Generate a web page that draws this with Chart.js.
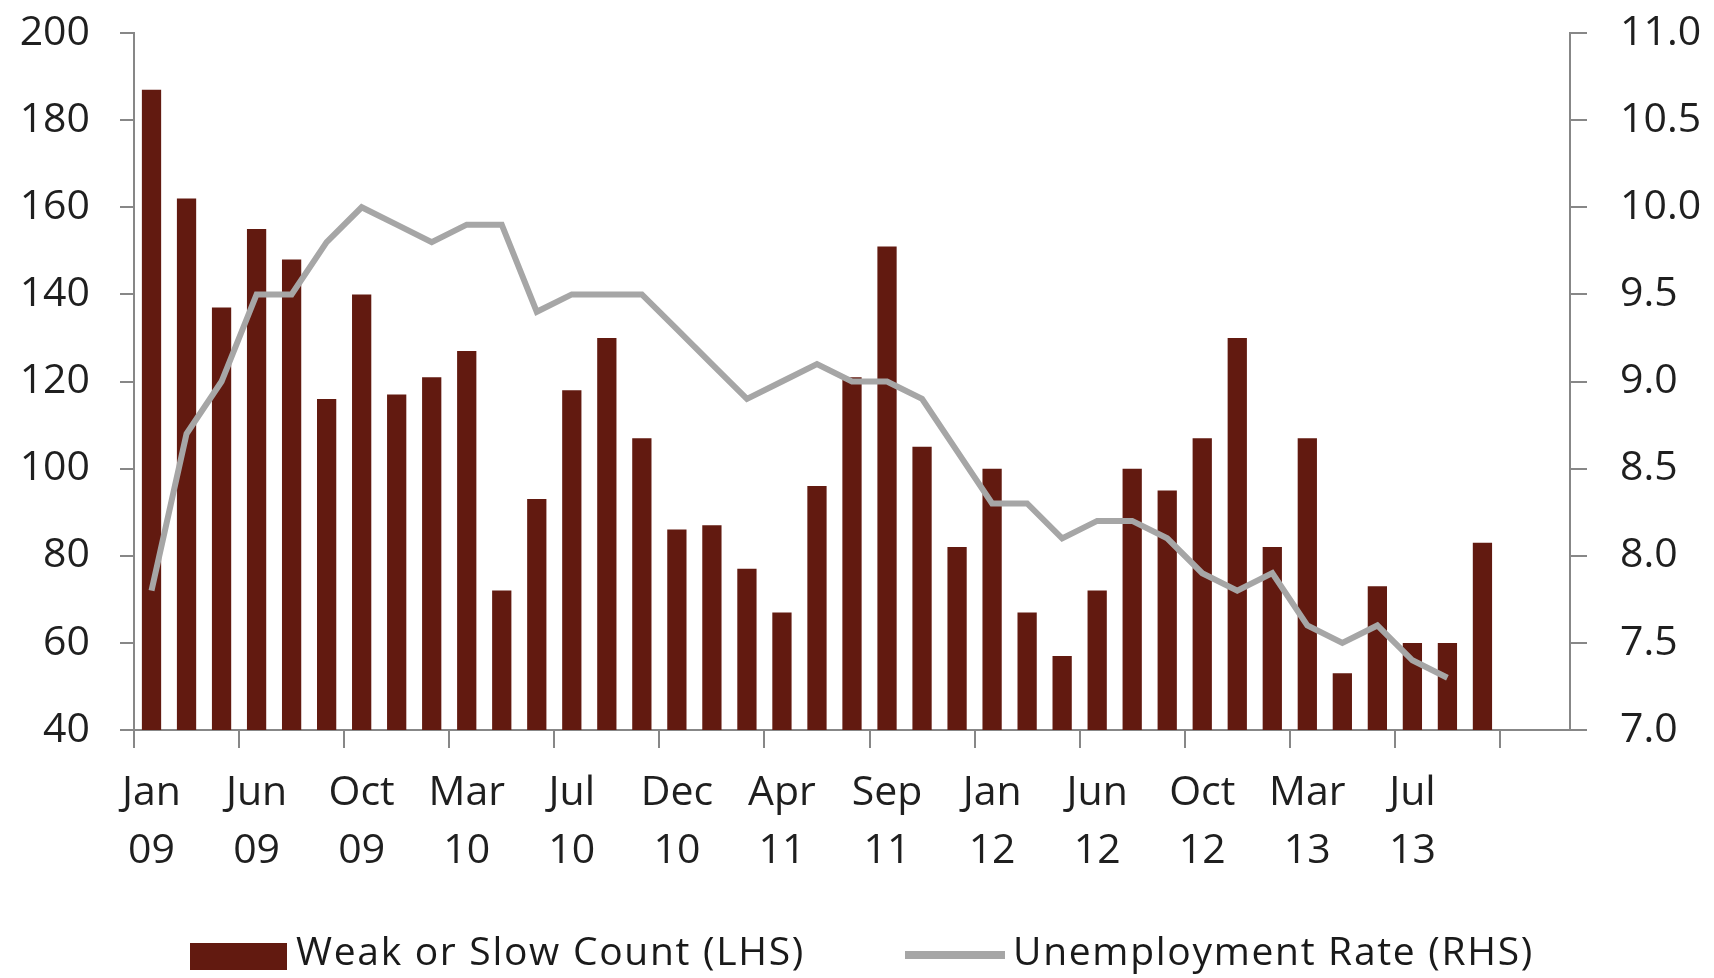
<!DOCTYPE html>
<html>
<head>
<meta charset="utf-8">
<script src="https://cdn.jsdelivr.net/npm/chart.js@4.4.1/dist/chart.umd.min.js"></script>
<style>
  html, body { margin: 0; padding: 0; background: #fff; }
  #wrap { position: relative; width: 1714px; height: 978px; overflow: hidden; }
  #chart { position: absolute; left: 0; top: 0; }
  .legend { position: absolute; top: 925px; font-family: "Open Sans", sans-serif; font-size: 39px; color: #1a1a1a; white-space: nowrap; line-height: 53px; letter-spacing: 1.7px; }
  .legend .swatch { position: absolute; }
</style>
</head>
<body>
<div id="wrap">
  <canvas id="chart" width="1714" height="978"></canvas>
  <div class="legend" style="left:190px">
    <span class="swatch" style="left:0; top:18px; width:97px; height:27px; background:#621a10"></span>
    <span style="position:absolute; left:106px; top:-2px">Weak or Slow Count (LHS)</span>
  </div>
  <div class="legend" style="left:905px">
    <span class="swatch" style="left:0; top:26px; width:100px; height:8px; background:#a6a6a6"></span>
    <span style="position:absolute; left:108px; top:-2px">Unemployment Rate (RHS)</span>
  </div>
</div>
<script>
// Beige Book release months, Jan 09 .. (two empty slots at the end)
const months = [
  'Jan 09','Mar 09','Apr 09','Jun 09','Jul 09','Sep 09','Oct 09','Dec 09',
  'Jan 10','Mar 10','Apr 10','Jun 10','Jul 10','Sep 10','Oct 10','Dec 10',
  'Jan 11','Mar 11','Apr 11','Jun 11','Jul 11','Sep 11','Oct 11','Nov 11',
  'Jan 12','Feb 12','Apr 12','Jun 12','Jul 12','Aug 12','Oct 12','Nov 12',
  'Jan 13','Mar 13','Apr 13','Jun 13','Jul 13','Sep 13','Oct 13','Dec 13','Jan 14'
];

const weakCount = [
  187, 162, 137, 155, 148, 116, 140, 117,
  121, 127, 72, 93, 118, 130, 107, 86,
  87, 77, 67, 96, 121, 151, 105, 82,
  100, 67, 57, 72, 100, 95, 107, 130,
  82, 107, 53, 73, 60, 60, 83, null, null
];

const unemployment = [
  7.8, 8.7, 9.0, 9.5, 9.5, 9.8, 10.0, 9.9,
  9.8, 9.9, 9.9, 9.4, 9.5, 9.5, 9.5, 9.3,
  9.1, 8.9, 9.0, 9.1, 9.0, 9.0, 8.9, 8.6,
  8.3, 8.3, 8.1, 8.2, 8.2, 8.1, 7.9, 7.8,
  7.9, 7.6, 7.5, 7.6, 7.4, 7.3, null, null, null
];

const AXIS = '#878787';
const TEXT = '#1f1f1f';
const FONT = { family: '"Open Sans", sans-serif', size: 41, lineHeight: 1.4 };

// labels only every third release, and only where there is data
const showLabel = i => i % 3 === 0 && weakCount[i] !== null;

new Chart(document.getElementById('chart'), {
  data: {
    labels: months,
    datasets: [
      {
        type: 'line',
        label: 'Unemployment Rate (RHS)',
        data: unemployment,
        yAxisID: 'y1',
        borderColor: '#a6a6a6',
        borderWidth: 6,
        pointRadius: 0,
        tension: 0,
        order: 0
      },
      {
        type: 'bar',
        label: 'Weak or Slow Count (LHS)',
        data: weakCount,
        yAxisID: 'y',
        backgroundColor: '#621a10',
        categoryPercentage: 1,
        barPercentage: 0.55,
        order: 1
      }
    ]
  },
  options: {
    responsive: false,
    animation: false,
    layout: { padding: { top: 33, left: 19, right: 11, bottom: 98 } },
    plugins: { legend: { display: false }, tooltip: { enabled: false } },
    scales: {
      x: {
        offset: true,
        grid: {
          offset: true,
          drawOnChartArea: false,
          tickLength: 18,
          lineWidth: 2,
          color: c => (c.index !== undefined && c.index % 3 === 0) ? AXIS : 'rgba(0,0,0,0)'
        },
        border: { display: true, color: AXIS, width: 2 },
        ticks: {
          autoSkip: false,
          maxRotation: 0,
          padding: 17,
          color: TEXT,
          font: FONT,
          callback: (v, i) => showLabel(i) ? months[i].split(' ') : ''
        },
        afterFit: s => { s.height = 150; s.paddingLeft = 0; s.paddingRight = 0; }
      },
      y: {
        position: 'left',
        min: 40, max: 200,
        grid: { drawOnChartArea: false, tickLength: 14, lineWidth: 2, color: AXIS },
        border: { display: true, color: AXIS, width: 2 },
        ticks: { stepSize: 20, padding: 30, color: TEXT, font: { family: FONT.family, size: 41 } },
        afterFit: s => { s.width = 115; s.paddingTop = 0; s.paddingBottom = 0; }
      },
      y1: {
        position: 'right',
        min: 7, max: 11,
        grid: { drawOnChartArea: false, tickLength: 17, lineWidth: 2, color: AXIS },
        border: { display: true, color: AXIS, width: 2 },
        ticks: {
          stepSize: 0.5, padding: 33, color: TEXT,
          font: { family: FONT.family, size: 41 },
          callback: v => Number(v).toFixed(1)
        },
        afterFit: s => { s.width = 133; s.paddingTop = 0; s.paddingBottom = 0; }
      }
    }
  }
});
</script>
</body>
</html>
